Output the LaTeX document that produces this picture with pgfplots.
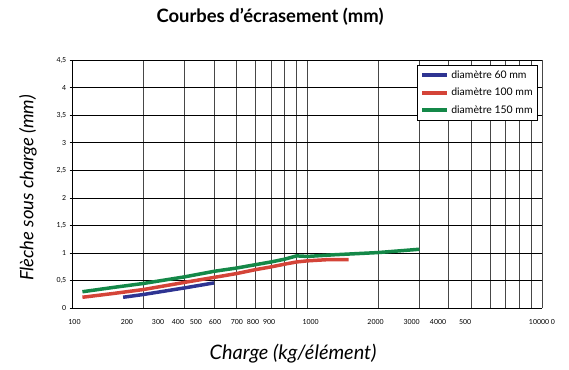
\documentclass[border=0pt]{standalone}
\usepackage{fontspec}
\setmainfont{Lato}
\usepackage{pgfplots}
\pgfplotsset{compat=1.18}
\definecolor{cblue}{RGB}{46,52,146}
\definecolor{cred}{RGB}{212,68,56}
\definecolor{cgreen}{RGB}{20,136,72}
\begin{document}
\begin{tikzpicture}
\path[use as bounding box] (0,0) rectangle (569bp,370bp);
\begin{axis}[
  at={(72.7bp,61.7bp)}, anchor=south west,
  scale only axis, width=469.3bp, height=248.3bp,
  xmode=log, xmin=100, xmax=10000, ymin=0, ymax=4.5,
  axis lines*=left,
  axis line style={black, line width=0.7bp},
  xtick={101.8,170.1,231,281,335,404,501,587,687,1033,1953,2783,3607,4701,10000},
  xticklabels={100,200,300,400,500,600,700,800,900,1000,2000,3000,4000,500,10000 0},
  minor xtick={200,300,400,500,600,700,800,900,1000,2000,3000,4000,5000,6000,7000,8000,9000,10000},
  xtick style={draw=none},
  minor tick length=0pt,
  xmajorgrids=false, xminorgrids=true,
  ytick={0,0.5,1,1.5,2,2.5,3,3.5,4,4.5},
  ymajorgrids=true,
  major grid style={black, line width=0.6bp},
  minor grid style={black!72, line width=0.8bp},
  ytick style={black, line width=0.6bp},
  tick align=center, major tick length=6bp,
  /pgf/number format/use comma,
  /pgf/number format/assume math mode=true,
  ticklabel style={font=\fontsize{7}{8}\selectfont},
  xticklabel style={yshift=-5bp},
  legend style={at={(1,1)}, anchor=north east, xshift=-4bp, yshift=-5bp,
    draw=black, line width=0.8bp, fill=white, font=\fontsize{10.5}{12}\selectfont,
    inner xsep=3bp, inner ysep=3bp, row sep=4.5bp},
  legend cell align=left,
  legend image code/.code={\draw[#1, line width=4bp] (0bp,0bp) -- (25bp,0bp);},
]
\addplot[cblue, line width=3.5bp, line join=round] coordinates {
 (164,0.20) (200,0.25) (300,0.37) (400,0.46)};
\addlegendentry{diamètre 60 mm}
\addplot[cred, line width=3.5bp, line join=round] coordinates {
 (110,0.20) (150,0.27) (200,0.34) (300,0.47) (400,0.56) (500,0.63) (600,0.70)
 (700,0.75) (800,0.80) (900,0.84) (1000,0.86) (1200,0.88) (1500,0.88)};
\addlegendentry{diamètre 100 mm}
\addplot[cgreen, line width=3.5bp, line join=round] coordinates {
 (110,0.30) (150,0.38) (200,0.45) (300,0.57) (400,0.67) (500,0.73) (600,0.79)
 (700,0.84) (800,0.89) (900,0.95) (1000,0.94) (1300,0.97) (2000,1.01) (3000,1.07)};
\addlegendentry{diamètre 150 mm}
\end{axis}
\node[font=\fontsize{18.5}{22}\selectfont\bfseries] at (270bp,353bp) {Courbes d’écrasement (mm)};
\node[font=\fontsize{20}{23}\selectfont\itshape] at (293bp,16bp) {Charge (kg/élément)};
\node[rotate=90, font=\fontsize{18.5}{22}\selectfont\itshape] at (28bp,182bp) {Flèche sous charge (mm)};
\end{tikzpicture}
\end{document}
